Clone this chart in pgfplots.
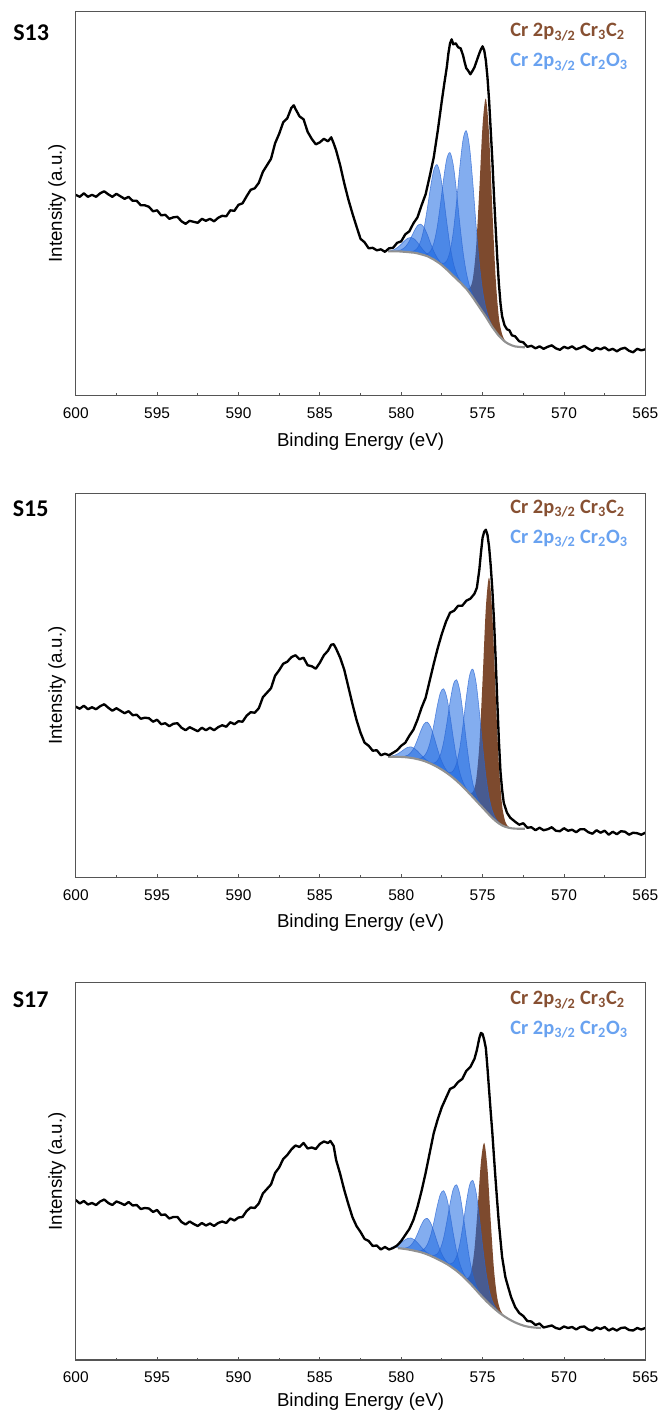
\documentclass[border=0pt]{standalone}
\usepackage{pgfplots}
\pgfplotsset{compat=1.18}
\usepackage{pgfplotstable}
\usepackage{fontspec}
\setmainfont{Liberation Sans}
\newfontfamily\calibri{Carlito}

\definecolor{axisgray}{RGB}{85,85,85}
\definecolor{brownfill}{RGB}{125,74,46}
\definecolor{browntext}{RGB}{135,80,50}
\definecolor{bluefill}{RGB}{30,105,225}
\definecolor{blueedge}{RGB}{40,100,210}
\definecolor{bluetext}{RGB}{105,162,240}
\definecolor{bggray}{RGB}{145,145,145}

% ---------------- Panel S13 ----------------
\pgfplotstableread{
x y
581.0 144
580.8 144
580.6 144
580.4 144
580.2 144
580.0 143.8
579.8 143.5
579.6 143.3
579.4 142.9
579.2 142.6
579.0 142
578.8 141.1
578.6 140.2
578.4 139.2
578.2 137.5
578.0 135.8
577.8 133.7
577.6 131.5
577.4 128.7
577.2 125.8
577.0 122.7
576.8 119.5
576.6 116.4
576.4 113.3
576.2 110
576.0 106.6
575.8 102.4
575.6 97.9
575.4 93.1
575.2 88.3
575.0 83.5
574.8 78.7
574.6 73.4
574.4 68.2
574.2 63.8
574.0 59.5
573.8 56.4
573.6 53.3
573.4 51.4
573.2 49.9
573.0 48.9
572.8 48.5
572.6 48.2
572.4 48
}\bgA
\pgfplotstableread{
x y
576.2 110.1
576.0 107.5
575.8 107
575.6 116.4
575.4 147.4
575.2 205.8
575.0 270.3
574.8 296.7
574.6 260.2
574.4 185.7
574.2 118.1
574.0 78
573.8 61
573.6 54.2
573.4 51.5
}\crA
\pgfplotstableread{
x y
577.8 133.9
577.6 132.4
577.4 131.9
577.2 134.6
577.0 144
576.8 163.4
576.6 193.3
576.4 228
576.2 255.8
576.0 264.6
575.8 248.2
575.6 212.6
575.4 170
575.2 132.2
575.0 104.8
574.8 87.5
574.6 76.6
574.4 69.1
574.2 64
}\oaA
\pgfplotstableread{
x y
578.8 141.3
578.6 140.9
578.4 141.6
578.2 144.2
578.0 152
577.8 167.1
577.6 189.9
577.4 215.8
577.2 236.6
577.0 242.7
576.8 230.3
576.6 203.5
576.4 171.7
576.2 143.4
576.0 122.8
575.8 109.1
575.6 100.3
575.4 93.8
575.2 88.5
}\obA
\pgfplotstableread{
x y
579.6 143.4
579.4 143.5
579.2 144.5
579.0 147.4
578.8 154.2
578.6 167.2
578.4 186.4
578.2 207.9
578.0 225.3
577.8 230.7
577.6 221
577.4 199.1
577.2 173
577.0 149.7
576.8 132.6
576.6 121.8
576.4 115.2
576.2 110.6
576.0 106.7
}\ocA
\pgfplotstableread{
x y
580.6 144.0
580.4 144.2
580.2 144.6
580.0 145.5
579.8 147.6
579.6 151.6
579.4 157.5
579.2 164.4
579.0 169.7
578.8 171.1
578.6 167.9
578.4 161
578.2 152.1
578.0 144.1
577.8 137.8
577.6 133.2
577.4 129.3
577.2 126
577.0 122.7
}\odA
\pgfplotstableread{
x y
580.8 144.3
580.6 144.8
580.4 146
580.2 148.2
580.0 151.1
579.8 154.4
579.6 157.1
579.4 157.9
579.2 156.4
579.0 152.9
578.8 148.4
578.6 144.4
578.4 141.2
578.2 138.3
578.0 136.1
577.8 133.7
}\oeA
\pgfplotstableread{
x y
600.00 200.5
599.75 198.5
599.50 202
599.25 198.5
599.00 200.5
598.75 198.5
598.50 202
598.25 204
598.00 201
597.75 198.5
597.50 201.5
597.25 199
597.00 196.5
596.75 198.5
596.50 194.5
596.25 194.5
596.00 190
595.75 190
595.50 188.5
595.25 184
595.00 185
594.75 180
594.50 180.5
594.25 176.5
594.00 178
593.75 178.5
593.50 174
593.25 171.5
593.00 174.5
592.75 173.5
592.50 172.5
592.25 176.5
592.00 174.5
591.75 176.5
591.50 174
591.25 177.5
591.00 179.5
590.75 179
590.50 185
590.25 184.5
590.00 190.5
589.75 192
589.50 199
589.25 205.5
589.00 207
588.75 212.5
588.50 223.5
588.25 230
588.00 236.5
587.75 252
587.50 261.5
587.25 273
587.00 277
586.75 287.5
586.60 290
586.50 286.5
586.25 279
586.00 276
585.75 263.5
585.50 256.5
585.25 251
585.00 253
584.75 256.5
584.50 254
584.30 258
584.15 252
584.00 245
583.75 230
583.50 212
583.25 196
583.00 182
582.75 169
582.50 156.5
582.25 153
582.00 147
581.75 147.5
581.50 145
581.25 146
581.00 143.5
580.75 147
580.50 147.5
580.25 152.5
580.00 154
579.75 161
579.50 164
579.25 172
579.00 178
578.75 190
578.50 201
578.25 219
578.00 238
577.75 265
577.50 295
577.35 312
577.20 328
577.10 342
577.00 352
576.90 356
576.80 351
576.65 352
576.50 348
576.35 347
576.20 340
576.10 333
576.00 327
575.90 325
575.75 321
575.60 325
575.50 328
575.35 335
575.20 342
575.10 346
575.00 349
574.90 345
574.80 335
574.70 318
574.60 295
574.50 265
574.40 235
574.30 200
574.20 168
574.10 138
574.00 112
573.90 92
573.80 79
573.65 70
573.50 66
573.35 65
573.20 60
573.00 59
572.75 54
572.50 53
572.25 48.5
572.00 49.5
571.75 47
571.50 49
571.25 46.5
571.00 48.5
570.75 50
570.50 47
570.25 45.5
570.00 48.5
569.75 47
569.50 49
569.25 46
569.00 47.5
568.75 49.5
568.50 46.5
568.25 44.5
568.00 47.5
567.75 46
567.50 48
567.25 45
567.00 46.5
566.75 44
566.50 46.5
566.25 47.5
566.00 44.5
565.75 43
565.50 46.5
565.25 45
565.00 46
}\blA

% ---------------- Panel S15 ----------------
\pgfplotstableread{
x y
581.0 121
580.8 121
580.6 121
580.4 121
580.2 120.9
580.0 120.8
579.8 120.6
579.6 120.3
579.4 119.9
579.2 119.3
579.0 118.6
578.8 117.8
578.6 116.8
578.4 115.6
578.2 114.2
578.0 112.6
577.8 110.9
577.6 109
577.4 107
577.2 104.8
577.0 102.4
576.8 99.8
576.6 97
576.4 94
576.2 90.8
576.0 87.5
575.8 84.1
575.6 80.6
575.4 77.1
575.2 73.6
575.0 70.1
574.8 66.6
574.6 63.1
574.4 59.8
574.2 56.8
574.0 54.3
573.8 52.3
573.6 50.9
573.4 50
573.2 49.4
573.0 49.1
572.8 49
572.6 49
572.4 49
}\bgB
\pgfplotstableread{
x y
576.0 87.6
575.8 85
575.6 85.6
575.4 97.2
575.2 132.6
575.0 197.8
574.8 269.7
574.6 300.1
574.4 262.9
574.2 184.5
574.0 113.3
573.8 72.4
573.6 55.9
573.4 50.9
573.2 49.5
}\crB
\pgfplotstableread{
x y
577.4 107.2
577.2 105.6
577.0 105
576.8 107
576.6 114.3
576.4 129.6
576.2 153.1
576.0 180.4
575.8 202.2
575.6 208.6
575.4 195.2
575.2 166.5
575.0 132.4
574.8 102.2
574.6 80.4
574.4 67
574.2 59.4
574.0 55.1
573.8 52.5
}\oaB
\pgfplotstableread{
x y
578.4 115.8
578.2 114.8
578.0 114.6
577.8 116.6
577.6 122.6
577.4 135.1
577.2 154
577.0 175.7
576.8 193
576.6 198
576.4 187.2
576.2 164.1
576.0 136.7
575.8 112.2
575.6 94.2
575.4 82.8
575.2 75.6
575.0 70.7
574.8 66.8
}\obB
\pgfplotstableread{
x y
579.2 119.4
579.0 119.1
578.8 119.4
578.6 121.4
578.4 126.7
578.2 137
578.0 152.5
577.8 170.4
577.6 184.7
577.4 189
577.2 180.5
577.0 161.9
576.8 139.7
576.6 119.8
576.4 105.1
576.2 95.4
576.0 89.1
575.8 84.6
575.6 80.7
}\ocB
\pgfplotstableread{
x y
580.2 121
580.0 121
579.8 121.4
579.6 122.5
579.4 125.3
579.2 130.4
579.0 138.1
578.8 146.8
578.6 153.7
578.4 155.6
578.2 151.1
578.0 141.6
577.8 130.4
577.6 120.1
577.4 112.4
577.2 107
577.0 103.2
576.8 100
576.6 97
}\odB
\pgfplotstableread{
x y
580.8 121.2
580.6 121.6
580.4 122.5
580.2 124
580.0 126.2
579.8 128.6
579.6 130.5
579.4 130.9
579.2 129.5
579.0 126.6
578.8 123.2
578.6 119.9
578.4 117.1
578.2 114.8
578.0 112.8
}\oeB
\pgfplotstableread{
x y
600.00 171
599.75 169
599.50 172
599.25 168.5
599.00 170.5
598.75 168.5
598.50 171.5
598.25 173.5
598.00 170
597.75 167
597.50 169.5
597.25 167
597.00 164.5
596.75 166.5
596.50 162.5
596.25 163
596.00 159
595.75 160
595.50 159.5
595.25 156
595.00 158
594.75 153.5
594.50 154.5
594.25 151.5
594.00 154
593.75 154.5
593.50 150
593.25 147.5
593.00 150.5
592.75 148.5
592.50 146.5
592.25 150
592.00 147.5
591.75 150
591.50 147.5
591.25 150.5
591.00 152.5
590.75 151
590.50 155.5
590.25 153.5
590.00 156.5
589.75 156
589.50 162
589.25 165.5
589.00 165
588.75 169.5
588.50 180.5
588.25 185
588.00 189.5
587.75 202
587.50 207.5
587.25 214
587.00 216
586.75 220.5
586.50 222.5
586.25 218.5
586.00 220
585.75 212.5
585.50 211.5
585.25 209
585.00 215
584.75 222.5
584.50 227
584.30 233
584.15 233.5
584.00 229
583.75 220
583.50 208
583.25 191
583.00 174
582.75 158
582.50 145
582.25 135
582.00 132
581.75 127
581.50 127.5
581.25 122.5
581.00 124
580.75 122.5
580.50 125
580.25 127.5
580.00 132
579.75 135
579.50 142
579.25 148
579.00 158
578.75 170
578.50 180
578.25 197
578.00 214
577.75 230
577.50 244
577.25 256
577.00 265
576.75 267
576.50 272
576.25 272
576.00 277
575.75 279
575.50 284
575.35 290
575.20 308
575.10 325
575.00 340
574.90 346
574.80 348
574.70 343
574.60 331
574.50 312
574.40 288
574.30 258
574.20 220
574.10 178
574.00 138
573.90 106
573.80 88
573.70 75
573.60 70
573.50 65
573.30 60
573.00 56
572.75 53
572.50 54.5
572.25 50
572.00 50.5
571.75 47.5
571.50 50
571.25 47.5
571.00 48.5
570.75 50.5
570.50 47
570.25 46.5
570.00 49.5
569.75 47
569.50 48
569.25 45.5
569.00 48.5
568.75 48.5
568.50 45.5
568.25 44
568.00 47.5
567.75 45
567.50 47
567.25 43
567.00 46
566.75 43.5
566.50 46.5
566.25 46
566.00 43
565.75 45
565.50 44.5
565.25 43
565.00 45
}\blB

% ---------------- Panel S17 ----------------
\pgfplotstableread{
x y
580.8 112
580.6 112
580.4 112
580.2 111.8
580.0 111.5
579.8 111.1
579.6 110.6
579.4 110
579.2 109.3
579.0 108.6
578.8 107.8
578.6 106.8
578.4 105.6
578.2 104.2
578.0 102.7
577.8 101.1
577.6 99.5
577.4 97.8
577.2 96
577.0 93.9
576.8 91.6
576.6 89.2
576.4 86.5
576.2 83.6
576.0 80.4
575.8 77.1
575.6 73.6
575.4 70
575.2 66.3
575.0 62.8
574.8 59.4
574.6 56.2
574.4 53.2
574.2 50.3
574.0 47.6
573.8 45.2
573.6 43
573.4 41
573.2 39.2
573.0 37.6
572.8 36.2
572.6 35
572.4 34
572.2 33.3
572.0 32.8
571.8 32.4
571.6 32.2
571.4 32
}\bgC
\pgfplotstableread{
x y
576.3 85.2
576.1 82.6
575.9 82
575.7 88.6
575.5 110.6
575.3 152.3
575.1 198.3
574.9 217.1
574.7 191.5
574.5 138.8
574.3 90.6
574.1 62.2
573.9 49.7
573.7 44.7
573.5 42.1
}\crC
\pgfplotstableread{
x y
577.4 98
577.2 96.6
577.0 96
576.8 97.5
576.6 103.5
576.4 116
576.2 135.2
576.0 157.4
575.8 174.9
575.6 179.6
575.4 167.8
575.2 143.3
575.0 114.4
574.8 88.9
574.6 70.5
574.4 59.1
574.2 52.4
574.0 48.2
573.8 45.4
}\oaC
\pgfplotstableread{
x y
578.4 105.7
578.2 104.7
578.0 104.4
577.8 105.9
577.6 111.1
577.4 121.7
577.2 137.9
577.0 156.3
576.8 171
576.6 175.2
576.4 165.9
576.2 146
576.0 122.3
575.8 101
575.6 85.2
575.4 74.8
575.2 68
575.0 63.3
574.8 59.5
}\obC
\pgfplotstableread{
x y
579.2 109.4
579.0 109
578.8 109.2
578.6 110.8
578.4 115.3
578.2 124.1
578.0 137.5
577.8 153
577.6 165.5
577.4 169.3
577.2 162
577.0 145.8
576.8 126.4
576.6 109.1
576.4 96.2
576.2 87.6
576.0 81.8
575.8 77.5
575.6 73.7
}\ocC
\pgfplotstableread{
x y
580.2 111.9
580.0 111.7
579.8 111.8
579.6 112.6
579.4 114.9
579.2 119.3
579.0 126.1
578.8 133.9
578.6 140
578.4 141.6
578.2 137.4
578.0 128.8
577.8 118.6
577.6 109.5
577.4 102.7
577.2 98
577.0 94.6
576.8 91.8
576.6 89.2
}\odC
\pgfplotstableread{
x y
580.6 112.7
580.4 113.6
580.2 115.1
580.0 117.3
579.8 119.8
579.6 121.7
579.4 122
579.2 120.4
579.0 117.3
578.8 113.6
578.6 110.1
578.4 107.2
578.2 104.9
578.0 102.9
}\oeC
\pgfplotstableread{
x y
600.00 160
599.75 156.5
599.50 159
599.25 155.5
599.00 157
598.75 155
598.50 158.5
598.25 160.5
598.00 157
597.75 155
597.50 158.5
597.25 157
597.00 155
596.75 158
596.50 154.5
596.25 155
596.00 151
595.75 152
595.50 151.5
595.25 148
595.00 150
594.75 145
594.50 145.5
594.25 141.5
594.00 143
593.75 143
593.50 138
593.25 135.5
593.00 138.5
592.75 136
592.50 134
592.25 137
592.00 134.5
591.75 136.5
591.50 134
591.25 137
591.00 138.5
590.75 137
590.50 141.5
590.25 139.5
590.00 142.5
589.75 143
589.50 149
589.25 152.5
589.00 152
588.75 156.5
588.50 166.5
588.25 171
588.00 175.5
587.75 187
587.50 192.5
587.25 201
587.00 205
586.75 210.5
586.50 214.5
586.25 213
586.00 217
585.75 211.5
585.50 212.5
585.25 211
585.00 216
584.75 218.5
584.50 217
584.35 219
584.15 214
584.00 200
583.75 186
583.50 170
583.25 156
583.00 143
582.75 134
582.50 128
582.25 121
582.00 119
581.75 114
581.50 114.5
581.25 110.5
581.00 113
580.75 110.5
580.50 112
580.25 114.5
580.00 119
579.75 125
579.50 131
579.25 140
579.00 153
578.75 169
578.50 187
578.25 207
578.00 227
577.75 241
577.50 253
577.25 262
577.00 271
576.75 273
576.50 278
576.25 281
576.00 289
575.75 293
575.50 301
575.35 310
575.20 322
575.10 327
575.00 326
574.90 320
574.80 312
574.70 292
574.60 270
574.50 248
574.40 227
574.30 203
574.20 180
574.10 158
574.00 137
573.80 103
573.60 83
573.50 77
573.25 63
573.00 53
572.75 47
572.50 44
572.25 39
572.00 38.5
571.75 35
571.50 36.5
571.25 32.5
571.00 33.5
570.75 34.5
570.50 32
570.25 31
570.00 33.5
569.75 32
569.50 33
569.25 30.5
569.00 33
568.75 33.5
568.50 30.5
568.25 29.5
568.00 32.5
567.75 31
567.50 33
567.25 29.5
567.00 31.5
566.75 29.5
566.50 32
566.25 32.5
566.00 30
565.75 29.5
565.50 32
565.25 30.5
565.00 32
}\blC

\pgfplotsset{
  xpsax/.style={
    scale only axis, width=427.2pt,
    xmin=565, xmax=600, x dir=reverse, ymin=0,
    xtick={565,570,...,600}, minor x tick num=1, ytick=\empty,
    tick pos=left, tick align=inside, axis on top,
    clip mode=individual,
    major tick length=2.6pt, minor tick length=1.8pt,
    axis line style={draw=axisgray, line width=0.8pt},
    every tick/.style={draw=axisgray, line width=0.6pt},
    tick label style={font=\fontsize{11.6}{13}\selectfont},
    xticklabel style={yshift=-5.5pt},
    /pgf/number format/assume math mode=true,
    xlabel={Binding Energy (eV)}, ylabel={Intensity (a.u.)},
    label style={font=\fontsize{14}{16}\selectfont},
    ylabel style={at={(axis description cs:-0.0328,0.5)}, anchor=center},
  },
  edge/.style={draw=blueedge, draw opacity=0.7, line width=0.45pt, smooth},
  bfill/.style={fill=bluefill, fill opacity=0.55, draw=none, smooth},
  crfill/.style={fill=brownfill, draw=none, smooth},
  wfill/.style={fill=white, draw=none, smooth},
  bgline/.style={draw=bggray, line width=1.6pt, smooth},
  spec/.style={draw=black, line width=1.75pt, line join=round},
}
\tikzset{
  leg/.style={anchor=base west, inner sep=0pt, font={\calibri\bfseries\fontsize{15.3}{18}\selectfont}},
  slab/.style={anchor=base west, inner sep=0pt, font={\calibri\bfseries\fontsize{18}{20}\selectfont}},
}

\begin{document}
\begin{tikzpicture}
\useasboundingbox (0,0) rectangle (495pt,1060.5pt);

% ===== S13 =====
\begin{axis}[xpsax, at={(56.8pt,764pt)}, anchor=south west, height=288pt, ymax=384,
  xlabel style={at={(axis description cs:0.5,0)}, anchor=center, yshift=-35pt}]
\addplot[crfill] table {\crA} \closedcycle;
\addplot[bfill] table {\oaA} \closedcycle;
\addplot[bfill] table {\obA} \closedcycle;
\addplot[bfill] table {\ocA} \closedcycle;
\addplot[bfill] table {\odA} \closedcycle;
\addplot[bfill] table {\oeA} \closedcycle;
\addplot[wfill] table {\bgA} \closedcycle;
\addplot[edge] table {\oaA};
\addplot[edge] table {\obA};
\addplot[edge] table {\ocA};
\addplot[edge] table {\odA};
\addplot[edge] table {\oeA};
\addplot[bgline, restrict x to domain=572.4:580.8] table {\bgA};
\addplot[spec] table {\blA};
\node[slab] at (axis description cs:-0.110,0.9234) {S13};
\node[leg, text=browntext] at (axis description cs:0.7625,0.934) {Cr 2p\textsubscript{3/2} Cr\textsubscript{3}C\textsubscript{2}};
\node[leg, text=bluetext] at (axis description cs:0.7625,0.856) {Cr 2p\textsubscript{3/2} Cr\textsubscript{2}O\textsubscript{3}};
\end{axis}

% ===== S15 =====
\begin{axis}[xpsax, at={(56.8pt,402.2pt)}, anchor=south west, height=288.3pt, ymax=384.4,
  xlabel style={at={(axis description cs:0.5,0)}, anchor=center, yshift=-33.5pt}]
\addplot[crfill] table {\crB} \closedcycle;
\addplot[bfill] table {\oaB} \closedcycle;
\addplot[bfill] table {\obB} \closedcycle;
\addplot[bfill] table {\ocB} \closedcycle;
\addplot[bfill] table {\odB} \closedcycle;
\addplot[bfill] table {\oeB} \closedcycle;
\addplot[wfill] table {\bgB} \closedcycle;
\addplot[edge] table {\oaB};
\addplot[edge] table {\obB};
\addplot[edge] table {\ocB};
\addplot[edge] table {\odB};
\addplot[edge] table {\oeB};
\addplot[bgline, restrict x to domain=572.4:580.8] table {\bgB};
\addplot[spec] table {\blB};
\node[slab] at (axis description cs:-0.1108,0.939) {S15};
\node[leg, text=browntext] at (axis description cs:0.7625,0.948) {Cr 2p\textsubscript{3/2} Cr\textsubscript{3}C\textsubscript{2}};
\node[leg, text=bluetext] at (axis description cs:0.7625,0.870) {Cr 2p\textsubscript{3/2} Cr\textsubscript{2}O\textsubscript{3}};
\end{axis}

% ===== S17 =====
\begin{axis}[xpsax, at={(56.8pt,40.5pt)}, anchor=south west, height=283pt, ymax=377.3,
  xlabel style={at={(axis description cs:0.5,0)}, anchor=center, yshift=-31.5pt}]
\addplot[crfill] table {\crC} \closedcycle;
\addplot[bfill] table {\oaC} \closedcycle;
\addplot[bfill] table {\obC} \closedcycle;
\addplot[bfill] table {\ocC} \closedcycle;
\addplot[bfill] table {\odC} \closedcycle;
\addplot[bfill] table {\oeC} \closedcycle;
\addplot[wfill] table {\bgC} \closedcycle;
\addplot[edge] table {\oaC};
\addplot[edge] table {\obC};
\addplot[edge] table {\ocC};
\addplot[edge] table {\odC};
\addplot[edge] table {\oeC};
\addplot[bgline, restrict x to domain=571.4:580.2] table {\bgC};
\addplot[spec] table {\blC};
\node[slab] at (axis description cs:-0.1108,0.933) {S17};
\node[leg, text=browntext] at (axis description cs:0.7625,0.941) {Cr 2p\textsubscript{3/2} Cr\textsubscript{3}C\textsubscript{2}};
\node[leg, text=bluetext] at (axis description cs:0.7625,0.863) {Cr 2p\textsubscript{3/2} Cr\textsubscript{2}O\textsubscript{3}};
\end{axis}
\end{tikzpicture}
\end{document}
